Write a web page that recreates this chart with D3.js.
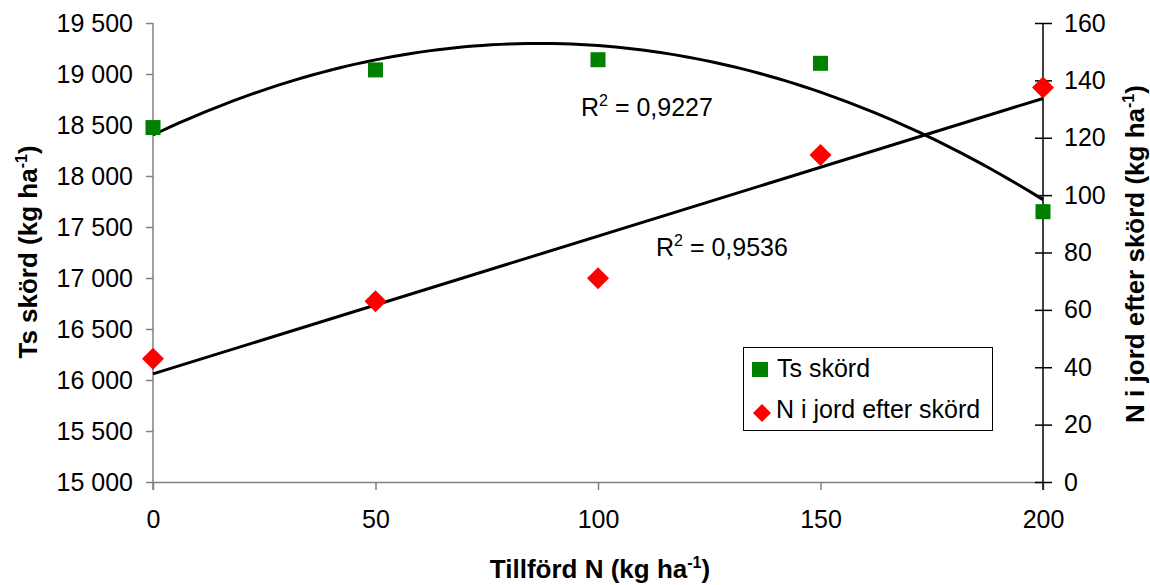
<!DOCTYPE html>
<html><head><meta charset="utf-8">
<script src="https://cdn.jsdelivr.net/npm/d3@7"></script>
<style>
html,body{margin:0;padding:0;background:#fff;}
svg text{font-family:"Liberation Sans",Arial,sans-serif;}
</style></head>
<body>
<svg id="c" width="1150" height="585"></svg>
<script>
const nValues = [0, 50, 100, 150, 200];
const tsSkord = [18475, 19040, 19140, 19105, 17650];
const nJord = [43, 63, 71, 114, 137.5];
const xTicks = [0, 50, 100, 150, 200];
const yLeftTicks = [15000,15500,16000,16500,17000,17500,18000,18500,19000,19500];
const yRightTicks = [0,20,40,60,80,100,120,140,160];
const r2Quad = "0,9227";
const r2Lin = "0,9536";

const svg = d3.select("#c");
const L = 153, R = 1043, T = 23, B = 482;
const x = d3.scaleLinear().domain([0,200]).range([L,R]);
const yL = d3.scaleLinear().domain([15000,19500]).range([B,T]);
const yR = d3.scaleLinear().domain([0,160]).range([B,T]);
const fmt = d => d3.format(",")(d).replace(/,/g," ");
const FS = 25;
const TFS = 26;

// axes
const gx = svg.append("g").attr("transform",`translate(0,${B})`)
  .call(d3.axisBottom(x).tickValues(xTicks).tickSize(8).tickPadding(20).tickSizeOuter(0));
gx.select(".domain").attr("stroke","#808080").attr("stroke-width",1.5);
gx.selectAll(".tick line").attr("stroke","#808080").attr("stroke-width",1.5);
gx.selectAll("text").attr("font-size",FS).attr("fill","#000");

const gl = svg.append("g").attr("transform",`translate(${L},0)`)
  .call(d3.axisLeft(yL).tickValues(yLeftTicks).tickFormat(fmt).tickSize(7).tickPadding(13).tickSizeOuter(0));
gl.select(".domain").attr("stroke","#808080").attr("stroke-width",1.5).attr("d",`M0,${T}V${B+8}`);
gl.selectAll(".tick line").attr("stroke","#808080").attr("stroke-width",1.5);
gl.selectAll("text").attr("font-size",FS).attr("fill","#000");

const gr = svg.append("g").attr("transform",`translate(${R},0)`)
  .call(d3.axisRight(yR).tickValues(yRightTicks).tickSize(9).tickPadding(12).tickSizeOuter(0));
gr.select(".domain").attr("stroke","#000").attr("stroke-width",1.5).attr("d",`M0,${T}V${B+8}`);
gr.selectAll(".tick line").attr("stroke","#000").attr("stroke-width",1.5).attr("x1",-8);
gr.selectAll("text").attr("font-size",FS).attr("fill","#000");

// quadratic regression for Ts skörd
function quadFit(xs, ys){
  const n = xs.length;
  let S = [0,0,0,0,0], Sy=[0,0,0];
  for(let i=0;i<n;i++){
    for(let k=0;k<5;k++) S[k]+=Math.pow(xs[i],k);
    for(let k=0;k<3;k++) Sy[k]+=ys[i]*Math.pow(xs[i],k);
  }
  const M = [[S[0],S[1],S[2],Sy[0]],[S[1],S[2],S[3],Sy[1]],[S[2],S[3],S[4],Sy[2]]];
  for(let i=0;i<3;i++){
    for(let j=i+1;j<3;j++){
      const f = M[j][i]/M[i][i];
      for(let k=i;k<4;k++) M[j][k]-=f*M[i][k];
    }
  }
  const c=[0,0,0];
  for(let i=2;i>=0;i--){
    let s=M[i][3];
    for(let k=i+1;k<3;k++) s-=M[i][k]*c[k];
    c[i]=s/M[i][i];
  }
  return c;
}
function linFit(xs, ys){
  const mx=d3.mean(xs), my=d3.mean(ys);
  let sxy=0,sxx=0;
  xs.forEach((v,i)=>{sxy+=(v-mx)*(ys[i]-my); sxx+=(v-mx)*(v-mx);});
  const b=sxy/sxx; return [my-b*mx,b];
}
const qc = quadFit(nValues, tsSkord);
const lc = linFit(nValues, nJord);
const xs = d3.range(0,200.01,2);

svg.append("path")
  .attr("d", d3.line().x(d=>x(d)).y(d=>yL(qc[0]+qc[1]*d+qc[2]*d*d))(xs))
  .attr("fill","none").attr("stroke","#000").attr("stroke-width",3);
svg.append("path")
  .attr("d", d3.line().x(d=>x(d)).y(d=>yR(lc[0]+lc[1]*d))([0,200]))
  .attr("fill","none").attr("stroke","#000").attr("stroke-width",3);

// markers
const sq = 15;
svg.selectAll(".sq").data(nValues).enter().append("rect")
  .attr("x",(d)=>x(d)-sq/2).attr("y",(d,i)=>yL(tsSkord[i])-sq/2)
  .attr("width",sq).attr("height",sq).attr("fill","#008000");
const dm = 11;
svg.selectAll(".dm").data(nValues).enter().append("path")
  .attr("d",(d,i)=>{const cx=x(d), cy=yR(nJord[i]); return `M${cx},${cy-dm}L${cx+dm},${cy}L${cx},${cy+dm}L${cx-dm},${cy}Z`;})
  .attr("fill","#ff0000");

// R2 labels
function r2(xp, yp, val){
  const t = svg.append("text").attr("x",xp).attr("y",yp).attr("font-size",FS);
  t.append("tspan").text("R");
  t.append("tspan").text("2").attr("font-size",16).attr("dy",-10);
  t.append("tspan").text(" = "+val).attr("dy",10);
}
r2(581,116,r2Quad);
r2(656,256,r2Lin);

// legend
svg.append("rect").attr("x",743.5).attr("y",347.5).attr("width",249).attr("height",83)
  .attr("fill","#fff").attr("stroke","#000").attr("stroke-width",1);
svg.append("rect").attr("x",752).attr("y",362).attr("width",16).attr("height",15).attr("fill","#008000");
svg.append("text").attr("x",777).attr("y",377).attr("font-size",FS).text("Ts skörd");
svg.append("path").attr("d",`M762,404L771,413L762,422L753,413Z`).attr("fill","#ff0000");
svg.append("text").attr("x",776).attr("y",418).attr("font-size",FS).text("N i jord efter skörd");

// axis titles
function title(xp, yp, rot, main){
  const t = svg.append("text").attr("font-weight","bold").attr("font-size",TFS)
    .attr("text-anchor","middle")
    .attr("transform",`translate(${xp},${yp}) rotate(${rot})`);
  t.append("tspan").text(main+" (kg ha");
  t.append("tspan").text("-1").attr("font-size",16).attr("dy",-10);
  t.append("tspan").text(")").attr("dy",10);
}
title(600,578,0,"Tillförd N");
title(37,252,-90,"Ts skörd");
title(1144,254,-90,"N i jord efter skörd");
</script>
</body></html>
